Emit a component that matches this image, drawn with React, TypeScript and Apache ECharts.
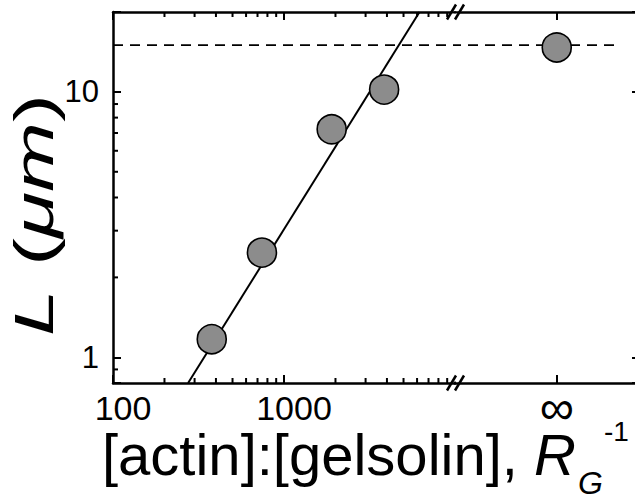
import React, { useEffect, useRef } from 'react';
import * as echarts from 'echarts';

// ---- data ----
const ratioRG = [378, 743, 1900, 3850];          // [actin]:[gelsolin]
const lengthL = [1.17, 2.48, 7.23, 10.2];        // L (um)
const infinityL = [14.7];                        // L at R_G^-1 = infinity
const plateauL = 15;                             // dashed plateau level
const fitRatio = [275, 6200];                    // fitted power-law line, end points
const fitL = [0.8, 20];

// ---- axes ----
const xLogRange = [100, 10000];
const yLogRange = [0.8, 20];
const xMajorLabels = [100, 1000];
const yMajorLabels = [1, 10];
const xMinorTicks = [200, 300, 400, 500, 600, 700, 800, 900, 2000, 3000, 4000, 5000, 6000, 7000, 8000, 9000];
const yMinorTicks = [0.9, 2, 3, 4, 5, 6, 7, 8, 9];
const infRange = [-1.1, 0.9];   // extent of the panel after the axis break
const infTick = 0;              // where the infinity category sits
const infLabel = '\u221E';
const plateauInfEnd = 0.63;

const FONT = 'Liberation Sans, Arial, sans-serif';

function isMajor(v: number, list: number[]) {
  return list.some((m) => Math.abs(v - m) / m < 1e-6);
}

export default function App() {
  const ref = useRef<HTMLDivElement | null>(null);

  useEffect(() => {
    document.body.style.margin = '0';
    if (!ref.current) return;
    const chart = echarts.init(ref.current, undefined, { renderer: 'svg' });

    const axisLine = { show: true, onZero: false, lineStyle: { color: '#000', width: 2.5 } };
    const majorTick = { show: true, inside: true, length: 8, lineStyle: { color: '#000', width: 2 } };
    const tickSym = (data: number[][], size: number[], offset: number[], xi: number, yi: number) => ({
      type: 'scatter',
      xAxisIndex: xi,
      yAxisIndex: yi,
      data,
      symbol: 'rect',
      symbolSize: size,
      symbolOffset: offset,
      itemStyle: { color: '#000', opacity: 1 },
      silent: true,
      clip: false,
      z: 3,
    });

    const slash = (x: number, y: number) => ({
      type: 'line',
      shape: { x1: x - 4.5, y1: y + 7.5, x2: x + 4.5, y2: y - 7.5 },
      style: { stroke: '#000', lineWidth: 2.5 },
      z: 100,
    });

    const txt = (text: string, x: number, y: number, size: number, italic: boolean, lh: number) => ({
      type: 'text',
      x,
      y,
      z: 100,
      style: {
        text,
        fontSize: size,
        fontFamily: FONT,
        fontStyle: italic ? 'italic' : 'normal',
        fill: '#000',
        align: 'left',
        verticalAlign: 'middle',
        lineHeight: lh,
      },
    });

    const option: any = {
      animation: false,
      backgroundColor: '#fff',
      grid: [
        { left: 113, top: 12, width: 342, height: 371, outerBoundsMode: 'none' },
        { left: 455, top: 12, width: 185, height: 371, outerBoundsMode: 'none' },
      ],
      xAxis: [
        {
          type: 'log', gridIndex: 0, position: 'bottom', logBase: 10,
          min: xLogRange[0], max: xLogRange[1],
          axisLine, axisTick: majorTick, splitLine: { show: false },
          axisLabel: {
            color: '#000', fontSize: 34, lineHeight: 28, fontFamily: FONT, margin: 11, padding: [0, 0, 0, 20],
            formatter: (v: number) => (isMajor(v, xMajorLabels) ? String(Math.round(v)) : ''),
          },
        },
        {
          type: 'log', gridIndex: 0, position: 'top', logBase: 10,
          min: xLogRange[0], max: xLogRange[1],
          axisLine, axisTick: majorTick, splitLine: { show: false }, axisLabel: { show: false },
        },
        {
          type: 'value', gridIndex: 1, position: 'bottom',
          min: infRange[0], max: infRange[1], interval: 1.1,
          axisLine,
          axisTick: { ...majorTick, customValues: [infTick] },
          splitLine: { show: false },
          axisLabel: {
            color: '#000', fontSize: 48, lineHeight: 28, fontFamily: FONT, margin: 10,
            customValues: [infTick],
            formatter: (v: number) => (Math.abs(v - infTick) < 1e-9 ? infLabel : ''),
          },
        },
        {
          type: 'value', gridIndex: 1, position: 'top',
          min: infRange[0], max: infRange[1], interval: 1.1,
          axisLine,
          axisTick: { ...majorTick, customValues: [infTick] },
          splitLine: { show: false }, axisLabel: { show: false },
        },
      ],
      yAxis: [
        {
          type: 'log', gridIndex: 0, position: 'left', logBase: 10,
          min: yLogRange[0], max: yLogRange[1],
          axisLine, axisTick: majorTick, splitLine: { show: false },
          axisLabel: {
            color: '#000', fontSize: 31, fontFamily: FONT, margin: 14,
            formatter: (v: number) => (isMajor(v, yMajorLabels) ? String(Math.round(v)) : ''),
          },
        },
        {
          type: 'log', gridIndex: 1, position: 'right', logBase: 10,
          min: yLogRange[0], max: yLogRange[1],
          axisLine, axisTick: majorTick, splitLine: { show: false }, axisLabel: { show: false },
        },
      ],
      series: [
        {
          type: 'line', xAxisIndex: 0, yAxisIndex: 0,
          data: fitRatio.map((x, i) => [x, fitL[i]]),
          symbol: 'none', lineStyle: { color: '#000', width: 2 }, z: 2, silent: true,
        },
        {
          type: 'line', xAxisIndex: 0, yAxisIndex: 0,
          data: [[xLogRange[0], plateauL], [xLogRange[1], plateauL]],
          symbol: 'none', lineStyle: { color: '#000', width: 1.6, type: [10, 7] }, z: 2, silent: true,
        },
        {
          type: 'line', xAxisIndex: 2, yAxisIndex: 1,
          data: [[infRange[0], plateauL], [plateauInfEnd, plateauL]],
          symbol: 'none', lineStyle: { color: '#000', width: 1.6, type: [10, 7], dashOffset: 4 }, z: 2, silent: true,
        },
        {
          type: 'scatter', xAxisIndex: 0, yAxisIndex: 0,
          data: ratioRG.map((x, i) => [x, lengthL[i]]),
          symbol: 'circle', symbolSize: 29,
          itemStyle: { color: '#8c8c8c', borderColor: '#000', borderWidth: 1.6, opacity: 1 },
          z: 5, clip: false,
        },
        {
          type: 'scatter', xAxisIndex: 2, yAxisIndex: 1,
          data: infinityL.map((y) => [infTick, y]),
          symbol: 'circle', symbolSize: 29,
          itemStyle: { color: '#8c8c8c', borderColor: '#000', borderWidth: 1.6, opacity: 1 },
          z: 5, clip: false,
        },
        tickSym(xMinorTicks.map((v) => [v, yLogRange[0]]), [2, 5], [0, -2.5], 0, 0),
        tickSym(xMinorTicks.map((v) => [v, yLogRange[1]]), [2, 5], [0, 2.5], 0, 0),
        tickSym(yMinorTicks.map((v) => [xLogRange[0], v]), [5, 2], [2.5, 0], 0, 0),
        tickSym(yMinorTicks.map((v) => [infRange[1], v]), [5, 2], [-2.5, 0], 2, 1),
      ],
      graphic: [
        // cover ticks sitting exactly at the axis break
        { type: 'rect', shape: { x: 450, y: 13.6, width: 10, height: 9 }, style: { fill: '#fff' }, z: 99 },
        { type: 'rect', shape: { x: 450, y: 373, width: 10, height: 8.6 }, style: { fill: '#fff' }, z: 99 },
        slash(451.5, 12), slash(459.5, 12),
        slash(451.5, 383), slash(459.5, 383),
        {
          type: 'text',
          x: 33,
          y: 215,
          rotation: Math.PI / 2,
          scaleX: 1.5,
          z: 100,
          style: {
            text: '{i|L} ({i|\u03BCm})',
            fontSize: 56,
            fontFamily: FONT,
            fill: '#000',
            align: 'center',
            verticalAlign: 'middle',
            lineHeight: 50,
            rich: {
              i: { fontStyle: 'italic', fontSize: 56, fontFamily: FONT, fill: '#000', lineHeight: 50 },
            },
          },
        },
        txt('[actin]:[gelsolin],', 102, 454, 58, false, 46),
        txt('R', 534, 454, 58, true, 46),
        txt('G', 578, 483, 32, true, 26),
        txt('-1', 604, 431, 28, false, 24),
      ],
    };

    chart.setOption(option);
    return () => chart.dispose();
  }, []);

  return (
    <div
      ref={ref}
      style={{ position: 'absolute', left: 0, top: 0, width: 635, height: 499, background: '#fff' }}
    />
  );
}
